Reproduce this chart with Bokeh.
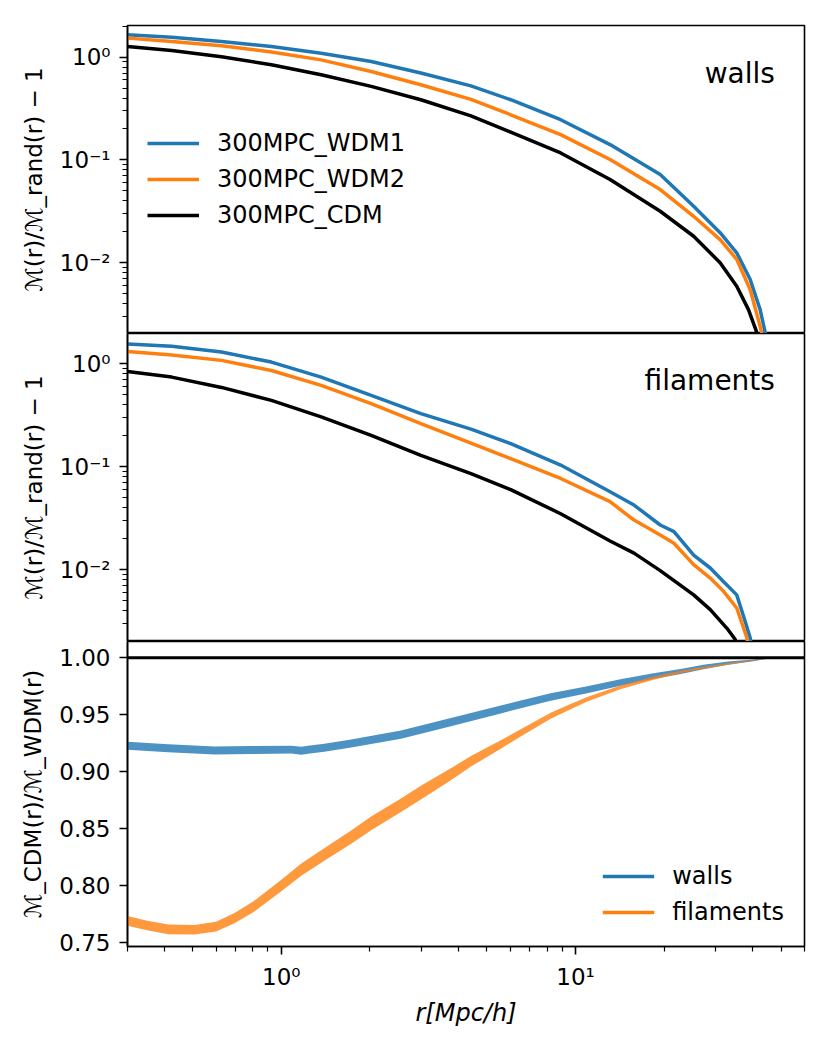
from bokeh.plotting import figure
from bokeh.models import (Range1d, FixedTicker, CustomJSTickFormatter, NumeralTickFormatter,
                          Legend, LegendItem, Label, Span)
from bokeh.layouts import column
from bokeh.embed import file_html
from bokeh.resources import INLINE

FONT = "DejaVu Sans"
C_WDM1 = "#1f77b4"
C_WDM2 = "#ff7f0e"
C_CDM = "#000000"

series_labels = ["300MPC_WDM1", "300MPC_WDM2", "300MPC_CDM"]
panel_labels = ["walls", "filaments"]
ratio_labels = ["walls", "filaments"]

# ---- walls: M(r)/M_rand(r) - 1
walls_r_wdm1 = [0.3, 0.424, 0.626, 0.925, 1.366, 2.02, 2.98, 4.41, 6.02, 8.9, 13.1, 19.4, 25.2, 31.0, 35.3, 39.2, 42.4, 44.1, 45.5]
walls_wdm1 = [1.646, 1.56, 1.42, 1.27, 1.09, 0.906, 0.70, 0.525, 0.385, 0.246, 0.141, 0.072, 0.0355, 0.0196, 0.0125, 0.0069, 0.0035, 0.0021, 0.0012]
walls_r_wdm2 = [0.3, 0.424, 0.626, 0.925, 1.366, 2.02, 2.98, 4.41, 6.02, 8.9, 13.1, 19.4, 25.2, 31.0, 35.3, 39.2, 41.8, 42.9, 44.0]
walls_wdm2 = [1.53, 1.42, 1.29, 1.12, 0.94, 0.725, 0.538, 0.388, 0.275, 0.176, 0.101, 0.0515, 0.0283, 0.0168, 0.0108, 0.0055, 0.0028, 0.0021, 0.0012]
walls_r_cdm = [0.3, 0.424, 0.626, 0.925, 1.366, 2.02, 2.98, 4.41, 6.02, 8.9, 13.1, 19.4, 25.2, 31.0, 35.3, 38.7, 41.3, 42.5]
walls_cdm = [1.27, 1.16, 1.01, 0.842, 0.673, 0.519, 0.385, 0.268, 0.186, 0.117, 0.0644, 0.0317, 0.0181, 0.0100, 0.0059, 0.0035, 0.0021, 0.0012]

# ---- filaments: M(r)/M_rand(r) - 1
fil_r_wdm1 = [0.3, 0.424, 0.626, 0.925, 1.366, 2.02, 2.98, 4.41, 6.02, 8.9, 13.1, 15.8, 19.4, 21.6, 25.2, 28.7, 31.8, 35.3, 37.1, 39.2, 40.5]
fil_wdm1 = [1.56, 1.48, 1.30, 1.04, 0.743, 0.493, 0.328, 0.232, 0.168, 0.104, 0.0573, 0.0425, 0.0272, 0.0235, 0.0139, 0.0104, 0.0077, 0.0057, 0.00366, 0.0022, 0.0012]
fil_r_wdm2 = [0.3, 0.424, 0.626, 0.925, 1.366, 2.02, 2.98, 4.41, 6.02, 8.9, 13.1, 15.8, 19.4, 21.6, 25.2, 28.7, 31.8, 35.3, 38.2, 39.5]
fil_wdm2 = [1.32, 1.22, 1.08, 0.862, 0.617, 0.41, 0.263, 0.170, 0.120, 0.077, 0.0458, 0.0304, 0.0218, 0.0181, 0.0112, 0.0083, 0.0062, 0.00425, 0.0022, 0.0012]
fil_r_cdm = [0.3, 0.424, 0.626, 0.925, 1.366, 2.02, 2.98, 4.41, 6.02, 8.9, 13.1, 15.8, 19.4, 25.2, 28.7, 32.7, 34.9, 36.0]
fil_cdm = [0.842, 0.743, 0.59, 0.441, 0.305, 0.202, 0.129, 0.086, 0.060, 0.035, 0.019, 0.0145, 0.0098, 0.0057, 0.0041, 0.0027, 0.0021, 0.0012]

# ---- ratio M_CDM / M_WDM, centre and band half-width
ratio_r_walls = [0.3, 0.413, 0.593, 0.791, 1.081, 1.169, 1.25, 1.4, 1.727, 2.55, 3.77, 5.57, 6.51, 8.23, 10.96, 14.2, 18.4, 23.0, 27.2, 33.0, 40.2, 47.0, 60.0]
ratio_walls = [0.9227, 0.9205, 0.9185, 0.9189, 0.9193, 0.9183, 0.9195, 0.921, 0.9247, 0.9325, 0.9435, 0.9545, 0.959, 0.9655, 0.9718, 0.9782, 0.9838, 0.988, 0.9918, 0.9952, 0.9977, 1.0, 1.0]
ratio_walls_err = [0.0035, 0.0035, 0.0035, 0.0035, 0.0035, 0.0035, 0.0035, 0.0035, 0.0035, 0.0036, 0.0036, 0.0035, 0.0034, 0.0033, 0.0031, 0.0028, 0.0025, 0.0022, 0.0019, 0.0014, 0.0008, 0.0, 0.0]
ratio_r_fil = [0.3, 0.35, 0.413, 0.507, 0.6, 0.693, 0.8, 1.0, 1.169, 1.366, 1.727, 2.02, 2.55, 2.98, 3.77, 4.41, 5.57, 6.51, 8.23, 9.62, 10.96, 14.2, 18.4, 23.0, 27.2, 33.0, 40.2, 47.0, 60.0]
ratio_fil = [0.769, 0.765, 0.7615, 0.7612, 0.764, 0.7715, 0.781, 0.800, 0.814, 0.8255, 0.8425, 0.8545, 0.8705, 0.8815, 0.8977, 0.909, 0.9238, 0.934, 0.949, 0.957, 0.9635, 0.9739, 0.982, 0.9878, 0.991, 0.9945, 0.9977, 1.0, 1.0]
ratio_fil_err = [0.0042, 0.0042, 0.0042, 0.0042, 0.0043, 0.0045, 0.0047, 0.005, 0.0053, 0.0055, 0.0058, 0.006, 0.006, 0.006, 0.0052, 0.0046, 0.0037, 0.0032, 0.0027, 0.0023, 0.002, 0.0016, 0.0013, 0.001, 0.0008, 0.0006, 0.0003, 0.0, 0.0]

# ---- axes ticks
x_major = [1.0, 10.0]
x_minor = [0.3, 0.4, 0.5, 0.6, 0.7, 0.8, 0.9, 2, 3, 4, 5, 6, 7, 8, 9, 20, 30, 40, 50, 60]
ylog_major = [0.01, 0.1, 1.0]
ylog_minor = [0.002, 0.003, 0.004, 0.005, 0.006, 0.007, 0.008, 0.009,
              0.02, 0.03, 0.04, 0.05, 0.06, 0.07, 0.08, 0.09,
              0.2, 0.3, 0.4, 0.5, 0.6, 0.7, 0.8, 0.9, 2.0]
ylin_major = [0.75, 0.80, 0.85, 0.90, 0.95, 1.00]

SUP_JS = """
const e = Math.round(Math.log10(tick));
const sup = {'-':'\u207b','0':'\u2070','1':'\u00b9','2':'\u00b2','3':'\u00b3','4':'\u2074'};
return '10' + String(e).split('').map(c => sup[c]).join('');
"""

xr = Range1d(0.3, 60.0)
W = 814
LEFT = 127


def style_axis(ax):
    ax.axis_line_color = "black"
    ax.axis_line_width = 1.6
    ax.major_tick_line_color = "black"
    ax.major_tick_line_width = 1.6
    ax.minor_tick_line_color = "black"
    ax.minor_tick_line_width = 1.2
    ax.major_tick_out = 8
    ax.major_tick_in = 0
    ax.minor_tick_out = 5
    ax.minor_tick_in = 0
    ax.major_label_text_font = FONT
    ax.major_label_text_font_size = "23px"
    ax.major_label_text_color = "black"
    ax.major_label_standoff = 9
    ax.axis_label_text_font = FONT
    ax.axis_label_text_font_size = "23px"
    ax.axis_label_text_font_style = "normal"
    ax.axis_label_text_color = "black"
    ax.axis_label_standoff = 10


def make_fig(height, ylog, yr, top, bottom, show_x):
    p = figure(width=W, height=height, x_axis_type="log",
               y_axis_type="log" if ylog else "linear",
               x_range=xr, y_range=Range1d(*yr),
               x_axis_location="below" if show_x else None,
               output_backend="svg", toolbar_location=None,
               min_border_left=LEFT, min_border_right=10,
               min_border_top=top, min_border_bottom=bottom)
    p.outline_line_color = "black"
    p.outline_line_width = 1.6
    p.outline_line_alpha = 1.0
    p.grid.visible = False
    p.background_fill_color = "white"
    p.border_fill_color = "white"
    style_axis(p.yaxis[0])
    if ylog:
        p.yaxis[0].ticker = FixedTicker(ticks=ylog_major, minor_ticks=ylog_minor)
        p.yaxis[0].formatter = CustomJSTickFormatter(code=SUP_JS)
    else:
        p.yaxis[0].ticker = FixedTicker(ticks=ylin_major, minor_ticks=[])
        p.yaxis[0].formatter = NumeralTickFormatter(format="0.00")
    if show_x:
        style_axis(p.xaxis[0])
        p.xaxis[0].ticker = FixedTicker(ticks=x_major, minor_ticks=x_minor)
        p.xaxis[0].formatter = CustomJSTickFormatter(code=SUP_JS)
    return p


def make_legend(items, loc):
    return Legend(items=items, location=loc, border_line_color=None,
                  background_fill_alpha=0, label_text_font=FONT,
                  label_text_font_size="24px", label_text_color="black",
                  glyph_width=52, glyph_height=28, label_height=28, label_standoff=18,
                  spacing=8, margin=20, padding=10)


LW = 3.5
YLAB_TOP = "\u2133(r)/\u2133_rand(r) \u2212 1"

# ---------- top panel: walls
p1 = make_fig(333, True, (0.00205, 2.03), 25, 0, False)
p1.yaxis[0].axis_label = YLAB_TOP
l1 = p1.line(walls_r_wdm1, walls_wdm1, line_color=C_WDM1, line_width=LW)
l2 = p1.line(walls_r_wdm2, walls_wdm2, line_color=C_WDM2, line_width=LW)
l3 = p1.line(walls_r_cdm, walls_cdm, line_color=C_CDM, line_width=LW)
p1.add_layout(make_legend([LegendItem(label=series_labels[0], renderers=[l1]),
                           LegendItem(label=series_labels[1], renderers=[l2]),
                           LegendItem(label=series_labels[2], renderers=[l3])], "left"))
p1.add_layout(Label(x=47.6, y=0.694, text=panel_labels[0], text_align="right",
                    text_baseline="alphabetic", text_font=FONT, text_font_size="28px",
                    text_color="black"))

# ---------- middle panel: filaments
p2 = make_fig(308, True, (0.00201, 1.97), 0, 0, False)
p2.yaxis[0].axis_label = YLAB_TOP
p2.line(fil_r_wdm1, fil_wdm1, line_color=C_WDM1, line_width=LW)
p2.line(fil_r_wdm2, fil_wdm2, line_color=C_WDM2, line_width=LW)
p2.line(fil_r_cdm, fil_cdm, line_color=C_CDM, line_width=LW)
p2.add_layout(Label(x=47.6, y=0.689, text=panel_labels[1], text_align="right",
                    text_baseline="alphabetic", text_font=FONT, text_font_size="28px",
                    text_color="black"))

# ---------- bottom panel: ratio
p3 = make_fig(388, False, (0.7465, 1.0142), 0, 80, True)
p3.yaxis[0].axis_label = "\u2133_CDM(r)/\u2133_WDM(r)"
p3.xaxis[0].axis_label = "r[Mpc/h]"
p3.xaxis[0].axis_label_text_font_style = "italic"
p3.xaxis[0].axis_label_text_font_size = "24px"
p3.xaxis[0].axis_label_standoff = 6

wl = [v - e for v, e in zip(ratio_walls, ratio_walls_err)]
wu = [v + e for v, e in zip(ratio_walls, ratio_walls_err)]
fl = [v - e for v, e in zip(ratio_fil, ratio_fil_err)]
fu = [v + e for v, e in zip(ratio_fil, ratio_fil_err)]
p3.varea(x=ratio_r_walls, y1=wl, y2=wu, fill_color=C_WDM1, fill_alpha=0.8)
p3.varea(x=ratio_r_fil, y1=fl, y2=fu, fill_color=C_WDM2, fill_alpha=0.8)
p3.add_layout(Span(location=1.0, dimension="width", line_color="black", line_width=3))
# legend proxies (hidden lines through the band centres)
lw_ = p3.line(ratio_r_walls, ratio_walls, line_color=C_WDM1, line_width=LW, visible=False)
lf_ = p3.line(ratio_r_fil, ratio_fil, line_color=C_WDM2, line_width=LW, visible=False)
p3.add_layout(make_legend([LegendItem(label=ratio_labels[0], renderers=[lw_]),
                           LegendItem(label=ratio_labels[1], renderers=[lf_])], "bottom_right"))

layout = column(p1, p2, p3, spacing=0)
open("out.html", "w").write(file_html(layout, INLINE))
